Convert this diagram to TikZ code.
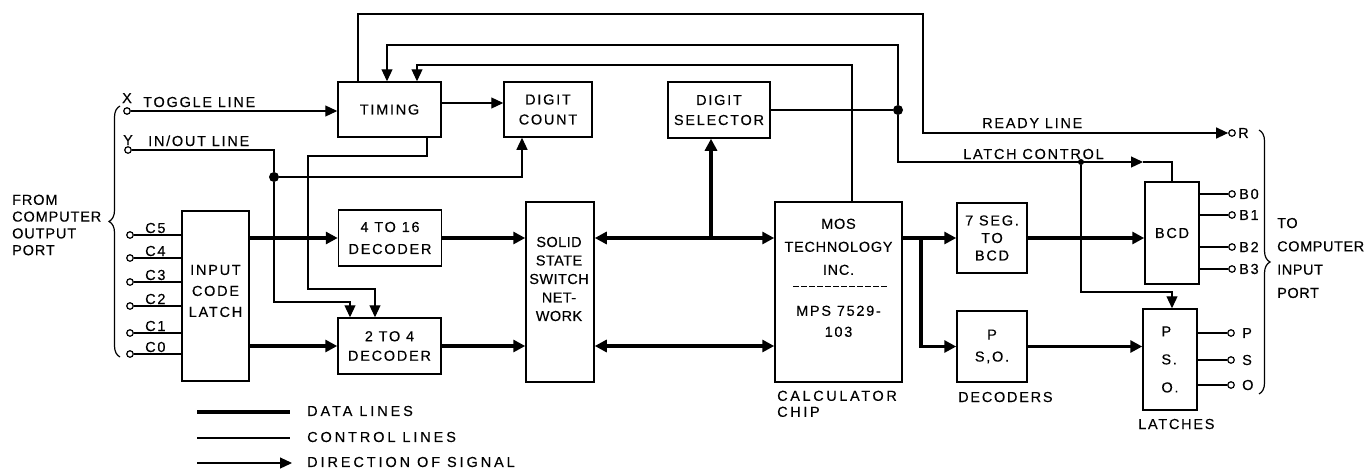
\documentclass[tikz,border=0pt]{standalone}
\usepackage{fontspec}
\setmainfont{Liberation Sans}[LetterSpace=12, FakeBold=0.3]
\usetikzlibrary{arrows.meta,decorations.pathreplacing}
\tikzset{
  box/.style={draw, line width=1.5pt, inner sep=0pt, align=center},
  cline/.style={line width=1.2pt},
  dline/.style={line width=3.6pt},
  ta/.style={-{Triangle[length=12pt,width=11pt]}},
  da/.style={-{Triangle[length=12pt,width=12pt]}},
  dda/.style={{Triangle[length=12pt,width=12pt]}-{Triangle[length=12pt,width=12pt]}},
  term/.style={circle, draw, line width=1.2pt, fill=white, inner sep=0pt, minimum size=6.5pt},
  jdot/.style={circle, fill, inner sep=0pt, minimum size=10pt},
  sdot/.style={circle, fill, inner sep=0pt, minimum size=6pt},
  lbl/.style={inner sep=0pt},
  brc/.style={line width=1.2pt, decorate},
}
\begin{document}
\begin{tikzpicture}[x=1pt, y=-1pt, font=\fontsize{14.5}{18}\selectfont]
\useasboundingbox (0,0) rectangle (1367,471);

% ---------- boxes ----------
\node[box, minimum width=103pt, minimum height=55pt] (timing) at (389.5,109.5) {TIMING};
\node[box, minimum width=88pt, minimum height=55pt, font=\fontsize{14.5}{20}\selectfont] (dcount) at (548,109.5) {DIGIT\\COUNT};
\node[box, minimum width=102pt, minimum height=56pt, font=\fontsize{14.5}{20}\selectfont] (dsel) at (719,110) {DIGIT\\SELECTOR};
\node[box, minimum width=103pt, minimum height=56pt, font=\fontsize{14.5}{22}\selectfont] (dec416) at (390,238) {4 TO 16\\DECODER};
\node[box, minimum width=67pt, minimum height=170pt] (latch) at (215.5,296) {};
\node[lbl, align=center, font=\fontsize{14.5}{21}\selectfont] (latcht) at (215.5,291) {INPUT\\CODE\\LATCH};
\node[box, minimum width=103pt, minimum height=56pt, font=\fontsize{14.5}{19.5}\selectfont] (dec24) at (389.5,346) {2 TO 4\\DECODER};
\node[box, minimum width=68pt, minimum height=180pt] (sssn) at (560,292) {};
\node[lbl, align=center, font=\fontsize{14.5}{18.5}\selectfont\addfontfeatures{LetterSpace=3}] (sssnt) at (559,279) {SOLID\\STATE\\SWITCH\\NET-\\WORK};
\node[box, minimum width=127pt, minimum height=180pt] (mos) at (838.5,292) {};
\node[lbl, anchor=north, align=center, font=\fontsize{14.5}{23}\selectfont\addfontfeatures{LetterSpace=5}] (most) at (838.5,218.5) {MOS\\TECHNOLOGY\\INC.};
\node[lbl, anchor=north, align=center, font=\fontsize{14.5}{21}\selectfont] (mpst) at (838.5,305.5) {MPS 7529-\\103};
\node[box, minimum width=70pt, minimum height=70pt, font=\fontsize{14.5}{17.5}\selectfont] (seg7) at (992,238) {7 SEG.\\TO\\BCD};
\node[box, minimum width=70pt, minimum height=71pt, font=\fontsize{14.5}{22}\selectfont] (psod) at (992,346.5) {P\\S,O.};
\node[box, minimum width=54pt, minimum height=102pt] (bcd) at (1172,233) {BCD};
\node[box, minimum width=54pt, minimum height=101pt, align=left, font=\fontsize{14.5}{28}\selectfont] (psol) at (1170,359.5) {P\\S.\\O.};

\draw[line width=1pt, dash pattern=on 6pt off 2pt] (793,286) -- (887,286);

% ---------- terminals ----------
\node[term] (X) at (127,111) {};
\node[term] (Y) at (128,150) {};
\node[term] (C5) at (130,235) {};
\node[term] (C4) at (130,258) {};
\node[term] (C3) at (130,282) {};
\node[term] (C2) at (130,306) {};
\node[term] (C1) at (130,333) {};
\node[term] (C0) at (130,354) {};
\node[term] (R) at (1232,133) {};
\node[term] (B0) at (1232,194) {};
\node[term] (B1) at (1232,215) {};
\node[term] (B2) at (1232,247) {};
\node[term] (B3) at (1232,269) {};
\node[term] (P) at (1231,333) {};
\node[term] (S) at (1231,360) {};
\node[term] (O) at (1231,385) {};

% ---------- junction dots ----------
\node[jdot] (j1) at (898,110) {};
\node[sdot] (j2) at (1081,162) {};
\node[jdot] (j3) at (274,177) {};

% ---------- helper coordinates ----------
\coordinate (rdy) at (923,14);
\coordinate (t2) at (387,45);
\coordinate (t3) at (417,65);
\coordinate (lcA) at (1143,162);
\coordinate (lcB) at (1172,292);
\coordinate (y2) at (350,302);
\coordinate (tb1) at (308,156);
\coordinate (tb2) at (375,289);
\coordinate (br1) at (711,238);
\coordinate (br2) at (921,238);
\coordinate (tc) at ([yshift=6.5pt]timing.east);
\coordinate (tbo) at ([xshift=37.5pt]timing.south);
\coordinate (tto) at ([xshift=-31.5pt]timing.north);
\coordinate (mto) at ([xshift=13.5pt]mos.north);
\coordinate (dcin) at ([xshift=-26pt]dcount.south);

% ---------- control lines ----------
\draw[cline, ta] (X) -- (X -| timing.west);
\draw[cline, ta] (tto) |- (rdy) |- (R);
\draw[cline] (dsel.east) -- (j1);
\draw[cline, ta] (j1) |- (t2) -- (t2 |- timing.north);
\draw[cline, ta] (j1) |- (lcA);
\draw[cline] (lcA) -| (bcd.north);
\draw[cline, ta] (j2) |- (lcB) -- (lcB |- psol.north);
\draw[cline, ta] (mto) |- (t3) -- (t3 |- timing.north);
\draw[cline, ta] (tc) -- (tc -| dcount.west);
\draw[cline] (Y) -| (j3);
\draw[cline, ta] (j3) |- (y2) -- (y2 |- dec24.north);
\draw[cline, ta] (j3) -| (dcin);
\draw[cline, ta] (tbo) |- (tb1) |- (tb2) -- (tb2 |- dec24.north);
\foreach \c in {C5,C4,C3,C2,C1,C0} \draw[cline] (\c) -- (\c -| latch.west);
\foreach \b in {B0,B1,B2,B3} \draw[cline] (\b -| bcd.east) -- (\b);
\foreach \b in {P,S,O} \draw[cline] (\b -| psol.east) -- (\b);

% ---------- data lines ----------
\draw[dline, da] (latch.east |- dec416.west) -- (dec416.west);
\draw[dline, da] (latch.east |- dec24.west) -- (dec24.west);
\draw[dline, da] (dec416.east) -- (dec416.east -| sssn.west);
\draw[dline, da] (dec24.east) -- (dec24.east -| sssn.west);
\draw[dline, dda] (sssn.east |- dec416.east) -- (mos.west |- dec416.east);
\draw[dline, da] (br1) -- (br1 |- dsel.south);
\draw[dline, dda] (sssn.east |- dec24.east) -- (mos.west |- dec24.east);
\draw[dline, da] (mos.east |- seg7.west) -- (seg7.west);
\draw[dline, da] (br2) |- (psod.west);
\draw[dline, da] (seg7.east) -- (seg7.east -| bcd.west);
\draw[dline, da] (psod.east) -- (psod.east -| psol.west);

% ---------- braces ----------
\coordinate (lb1) at (120,357);
\coordinate (lb2) at (120,106);
\draw[brc, decoration={brace, amplitude=11pt, aspect=0.54}] (lb1) -- (lb2);
\coordinate (rb1) at (1259,130);
\coordinate (rb2) at (1259,394);
\draw[brc, decoration={brace, amplitude=11pt, aspect=0.5}] (rb1) -- (rb2);

% ---------- labels ----------
\node[lbl, anchor=base] at (127,103) {X};
\node[lbl, anchor=base west] at (143,107) {TOGGLE LINE};
\node[lbl, anchor=base] at (128,145) {Y};
\node[lbl, anchor=base west] at (148,146) {IN/OUT LINE};
\node[lbl, anchor=base west] at (145,233) {C5};
\node[lbl, anchor=base west] at (145,256) {C4};
\node[lbl, anchor=base west] at (145,280) {C3};
\node[lbl, anchor=base west] at (145,304) {C2};
\node[lbl, anchor=base west] at (145,331) {C1};
\node[lbl, anchor=base west] at (145,352) {C0};
\node[lbl, anchor=west, align=left, font=\fontsize{14.5}{16.8}\selectfont\addfontfeatures{LetterSpace=6}] at (12,225) {FROM\\COMPUTER\\OUTPUT\\PORT};
\node[lbl, anchor=base west] at (982,128) {READY LINE};
\node[lbl, anchor=base west] at (963,159) {LATCH CONTROL};
\node[lbl, anchor=west] at (1238,133) {R};
\node[lbl, anchor=west] at (1239,194) {B0};
\node[lbl, anchor=west] at (1239,215) {B1};
\node[lbl, anchor=west] at (1239,247) {B2};
\node[lbl, anchor=west] at (1239,269) {B3};
\node[lbl, anchor=west] at (1242,333) {P};
\node[lbl, anchor=west] at (1242,360) {S};
\node[lbl, anchor=west] at (1242,385) {O};
\node[lbl, anchor=west, align=left, font=\fontsize{14.5}{23.3}\selectfont\addfontfeatures{LetterSpace=4}] at (1277,258) {TO\\COMPUTER\\INPUT\\PORT};
\node[lbl, anchor=north west, align=left, font=\fontsize{14.5}{16}\selectfont\addfontfeatures{LetterSpace=18}] at (777,390.5) {CALCULATOR\\CHIP};
\node[lbl, anchor=base west] at (958,402) {DECODERS};
\node[lbl, anchor=base west] at (1138,429) {LATCHES};

% ---------- legend ----------
\coordinate (lg1a) at (197,412); \coordinate (lg1b) at (290,412);
\coordinate (lg2a) at (197,438); \coordinate (lg2b) at (290,438);
\coordinate (lg3a) at (197,463); \coordinate (lg3b) at (292,463);
\draw[dline] (lg1a) -- (lg1b);
\draw[cline] (lg2a) -- (lg2b);
\draw[cline, ta] (lg3a) -- (lg3b);
\begin{scope}[every node/.style={font=\fontsize{14.5}{18}\selectfont\addfontfeatures{LetterSpace=20}}]
\node[lbl, anchor=west] at (307,411) {DATA LINES};
\node[lbl, anchor=west] at (307,437) {CONTROL LINES};
\node[lbl, anchor=west] at (307,462) {DIRECTION OF SIGNAL};
\end{scope}
\end{tikzpicture}
\end{document}
